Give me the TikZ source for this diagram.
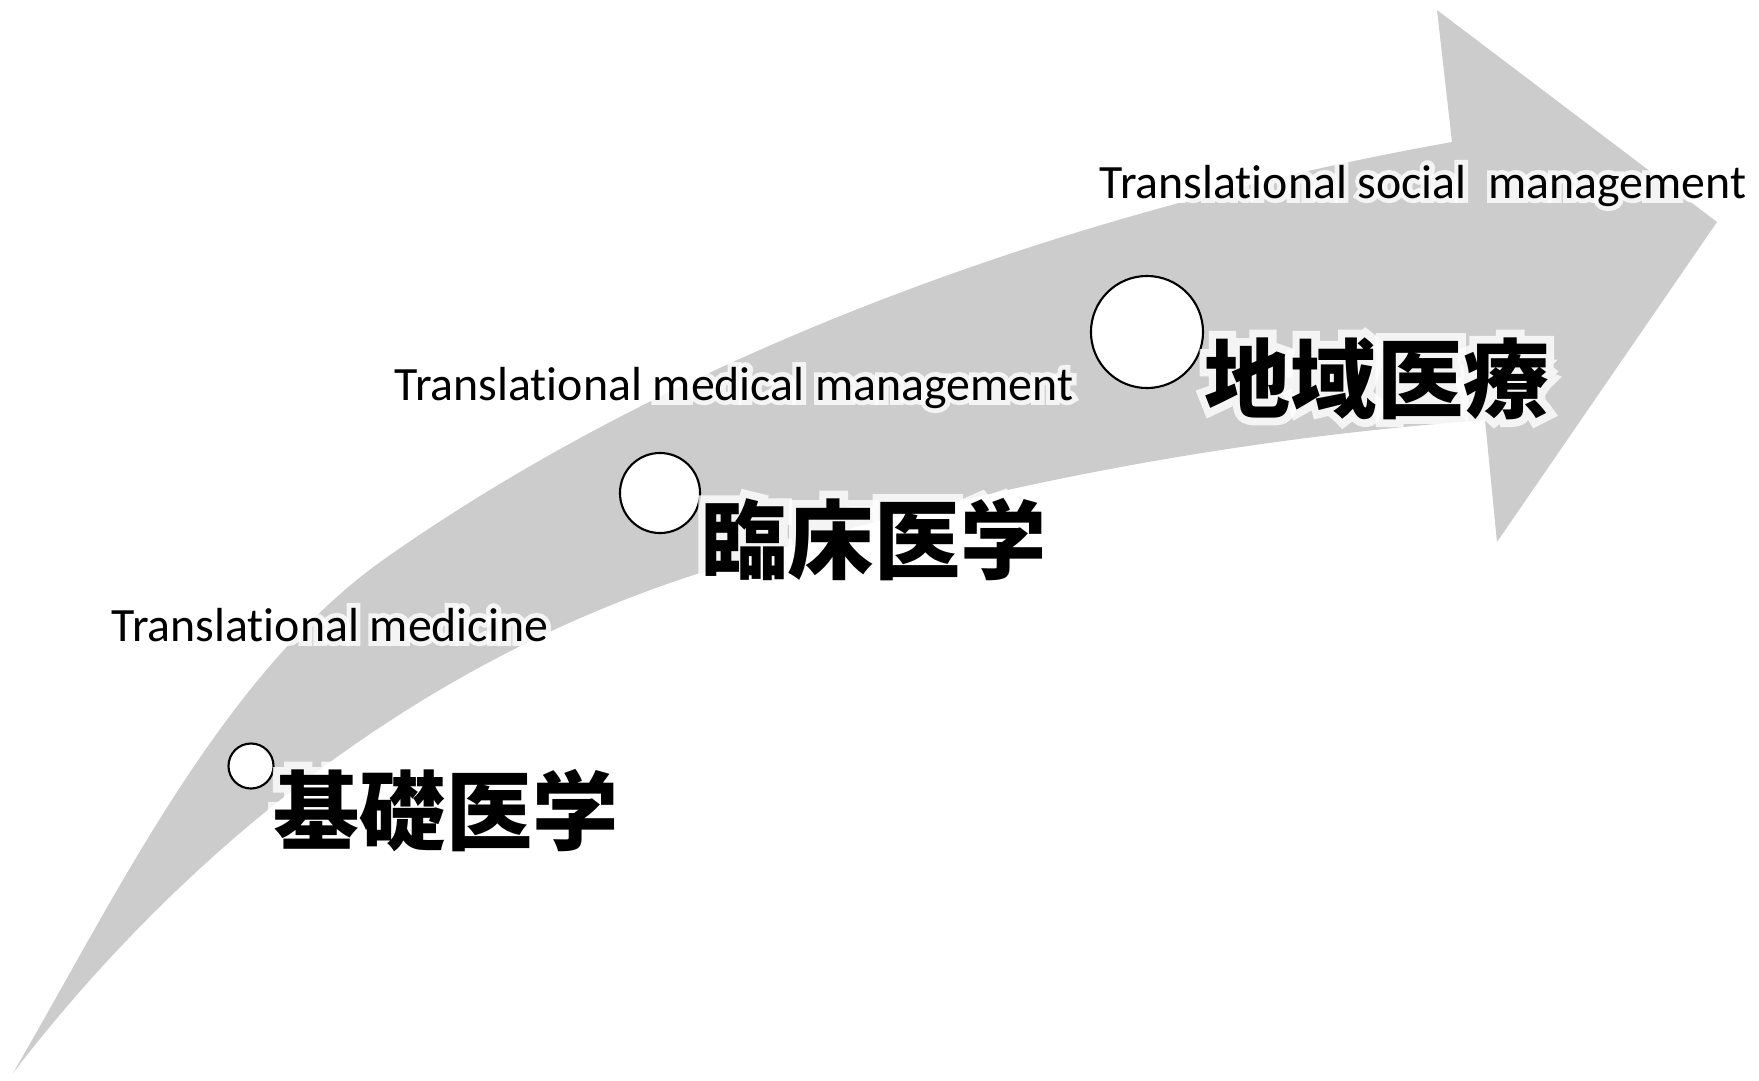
\documentclass[tikz,border=0pt]{standalone}
\usepackage{fontspec}
\setmainfont[Ligatures = NoCommon]{Carlito}
\newfontfamily\enhalo[Ligatures = NoCommon, FakeBold = 20]{Carlito}
\newfontfamily\jpfont{Noto Sans CJK JP}
\newfontfamily\jphalo[BoldFeatures = {FakeBold = 18}]{Noto Sans CJK JP}
\usepackage{tikz}
\usetikzlibrary{positioning}
\definecolor{arrowgray}{HTML}{CCCCCC}
\tikzstyle{stage} = [circle, draw, fill = white, line width = 0.6pt, inner sep = 0pt]
\tikzstyle{caption} = [anchor = base west, inner sep = 0pt, font = \fontsize{13.6pt}{16pt}\selectfont]
\tikzstyle{captionhalo} = [caption, text = white, opacity = 0.8, font = \enhalo\fontsize{13.6pt}{16pt}\selectfont]
\tikzstyle{field} = [anchor = base west, inner sep = 0pt, font = \jpfont\bfseries\fontsize{24.5pt}{28pt}\selectfont]
\tikzstyle{fieldhalo} = [field, text = white, opacity = 0.8, font = \jphalo\bfseries\fontsize{24.5pt}{28pt}\selectfont]
% label with a white glow: style, position, name, text
\newcommand{\glowlabel}[4]{%
	\node[#1halo] at (#2) {#4};
	\node[#1] (#3) at (#2) {#4};
}

\begin{document}
\begin{tikzpicture}[x = 0.01cm, y = -0.01cm]

			\useasboundingbox (0,0) rectangle (1759,1081);

			% Curved arrow
			\fill[arrowgray] (13,1073) .. controls (112,904) and (220,676) .. (383,560)
			.. controls (669,358) and (1058,212) .. (1452,142)
			-- (1437,10) -- (1717,222) -- (1497,542) -- (1485,420)
			.. controls (1216,440) and (957,491) .. (700,573)
			.. controls (395,670) and (165,875) .. (13,1073) -- cycle;

			% Stages
			\node[stage, minimum size = 0.45cm] (basic) at (251,766) {};
			\node[stage, minimum size = 0.80cm] (clinic) at (660,493) {};
			\node[stage, minimum size = 1.12cm] (region) at (1147,332) {};

			% Japanese labels
			\glowlabel{field}{273,843}{kiso}{基礎医学}
			\glowlabel{field}{701,572}{rinsho}{臨床医学}
			\glowlabel{field}{1204,411}{chiiki}{地域医療}

			% English labels
			\glowlabel{caption}{111,641}{tmed}{Translational medicine}
			\glowlabel{caption}{394,400}{tmedman}{Translational medical management}
			\glowlabel{caption}{1099,198}{tsocman}{Translational social\ \ management}

		\end{tikzpicture}
\end{document}
